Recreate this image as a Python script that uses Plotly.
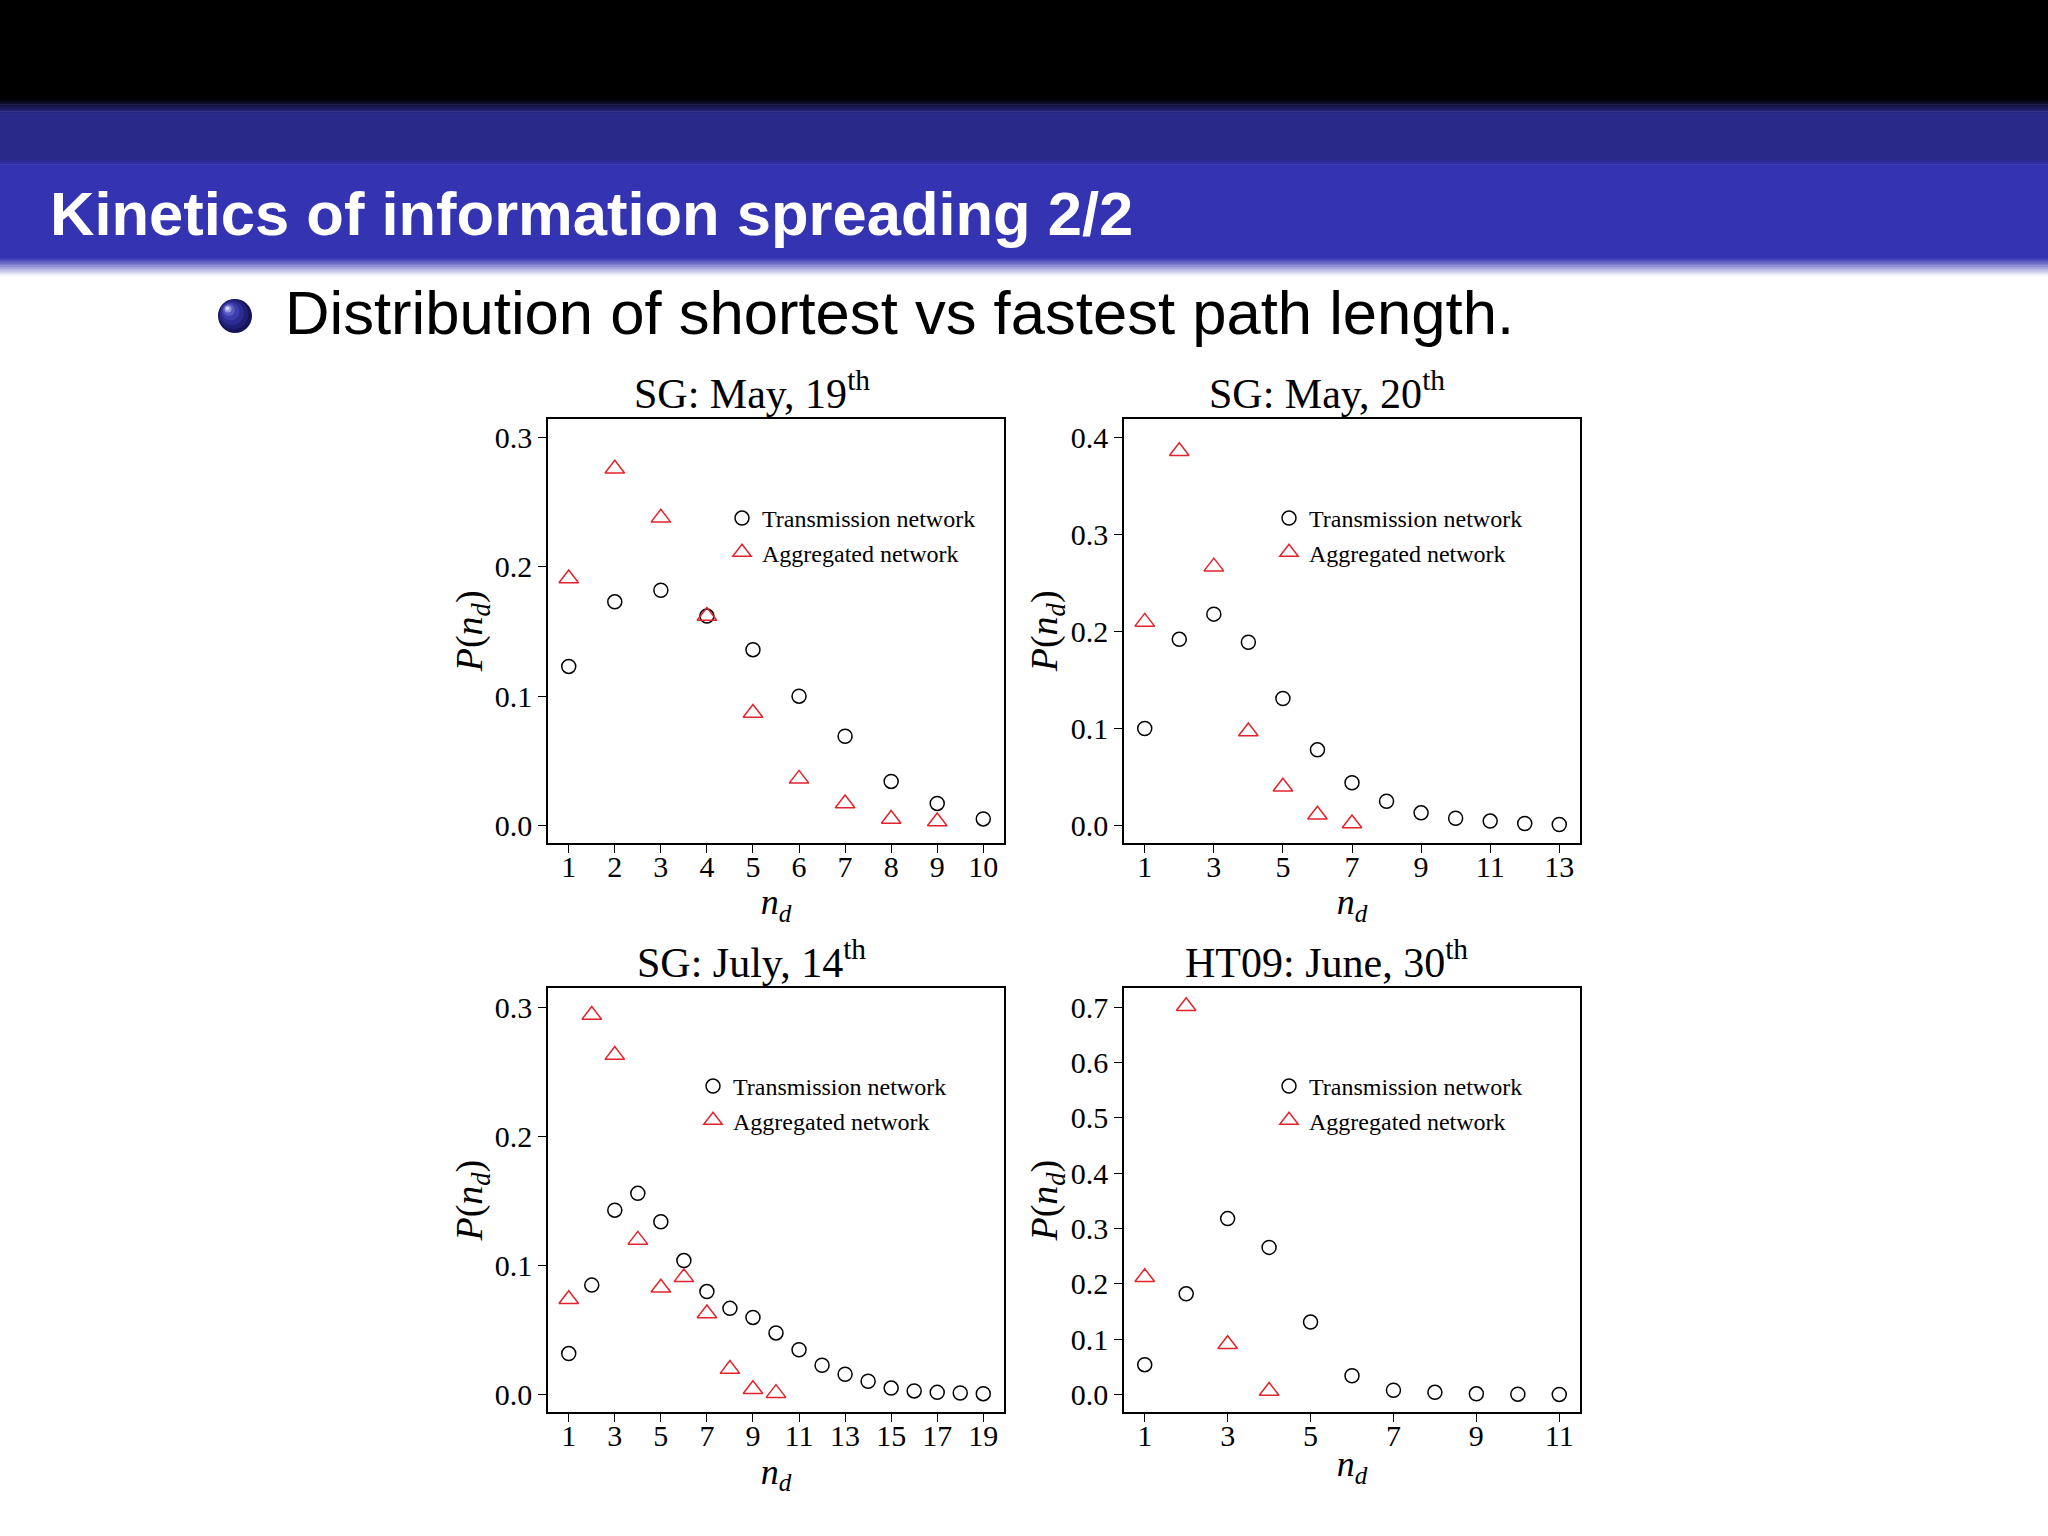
import plotly.graph_objects as go

W, H = 2048, 1536

# ---------------- data ----------------
titles = ["SG: May, 19<sup>th</sup>", "SG: May, 20<sup>th</sup>",
          "SG: July, 14<sup>th</sup>", "HT09: June, 30<sup>th</sup>"]

trans_may19 = [0.123, 0.173, 0.182, 0.162, 0.136, 0.100, 0.069, 0.034, 0.017, 0.005]
agg_may19 = [0.191, 0.276, 0.238, 0.162, 0.087, 0.036, 0.017, 0.005, 0.003]

trans_may20 = [0.100, 0.192, 0.218, 0.189, 0.131, 0.078, 0.044, 0.025, 0.013, 0.0074,
               0.0045, 0.002, 0.001]
agg_may20 = [0.210, 0.386, 0.267, 0.097, 0.040, 0.011, 0.002]

trans_jul14 = [0.032, 0.085, 0.143, 0.156, 0.134, 0.104, 0.080, 0.067, 0.060, 0.048,
               0.035, 0.023, 0.016, 0.0106, 0.0053, 0.0031, 0.002, 0.0015, 0.001]
agg_jul14 = [0.074, 0.294, 0.263, 0.120, 0.083, 0.091, 0.063, 0.020, 0.0044, 0.0014]

trans_ht09 = [0.054, 0.182, 0.318, 0.266, 0.131, 0.034, 0.0078, 0.004, 0.0013, 0.0006, 0.0002]
agg_ht09 = [0.212, 0.702, 0.091, 0.0065]

x_ticks = [list(range(1, 11)), list(range(1, 14, 2)), list(range(1, 20, 2)), list(range(1, 12, 2))]
y_ticks = [[0.0, 0.1, 0.2, 0.3], [0.0, 0.1, 0.2, 0.3, 0.4],
           [0.0, 0.1, 0.2, 0.3], [0.0, 0.1, 0.2, 0.3, 0.4, 0.5, 0.6, 0.7]]

series = [(trans_may19, agg_may19), (trans_may20, agg_may20),
          (trans_jul14, agg_jul14), (trans_ht09, agg_ht09)]

# ---------------- layout helpers ----------------
def px(x):
    return x / W

def py(y):
    return 1 - y / H

x_ranges = [[0.55, 10.45], [0.4, 13.6], [0.1, 19.9], [0.5, 11.5]]
y_ranges = [[-0.0134, 0.3145], [-0.0178, 0.4193], [-0.0132, 0.3147], [-0.0316, 0.7344]]
col_px = [(548, 1004), (1124, 1580)]
row_px = [(419, 842.7), (988.3, 1412)]

SERIF = "Liberation Serif"
RED = "#e3232b"

fig = go.Figure()

legend_names = ["legend", "legend2", "legend3", "legend4"]
for i, (trans, agg) in enumerate(series):
    ax = "" if i == 0 else str(i + 1)
    fig.add_trace(go.Scatter(
        x=list(range(1, len(trans) + 1)), y=trans, mode="markers",
        name="Transmission network",
        marker=dict(symbol="circle-open", size=14, color="black", line=dict(width=1.5, color="black")),
        xaxis="x" + ax, yaxis="y" + ax, legend=legend_names[i]))
    fig.add_trace(go.Scatter(
        x=list(range(1, len(agg) + 1)), y=agg, mode="markers",
        name="Aggregated network",
        marker=dict(symbol="triangle-up-open", size=17, color=RED, line=dict(width=1.5, color=RED)),
        xaxis="x" + ax, yaxis="y" + ax, legend=legend_names[i]))

layout = dict(
    width=W, height=H, margin=dict(l=0, r=0, t=0, b=0),
    paper_bgcolor="white", plot_bgcolor="white",
    font=dict(family=SERIF, color="black"),
    showlegend=True,
)

for i in range(4):
    r, c = divmod(i, 2)
    ax = "" if i == 0 else str(i + 1)
    xd = [px(col_px[c][0]), px(col_px[c][1])]
    yd = [py(row_px[r][1]), py(row_px[r][0])]
    common = dict(showline=True, linecolor="black", linewidth=1.6, mirror=True,
                  ticks="outside", ticklen=8, tickwidth=1.4, tickcolor="black",
                  showgrid=False, zeroline=False,
                  tickfont=dict(family=SERIF, size=30, color="black"))
    layout["xaxis" + ax] = dict(domain=xd, range=x_ranges[i], tickvals=x_ticks[i],
                                anchor="y" + ax, ticklabelstandoff=-12,
                                title=dict(text="<i>n</i><sub><i>d</i></sub>",
                                           font=dict(family=SERIF, size=36), standoff=0),
                                **common)
    layout["yaxis" + ax] = dict(domain=yd, range=y_ranges[i], tickvals=y_ticks[i],
                                tickformat=".1f", anchor="x" + ax,
                                title=dict(text="<i>P</i>(<i>n</i><sub><i>d</i></sub>)",
                                           font=dict(family=SERIF, size=38), standoff=0),
                                **common)

legend_pos = [(722, 496), (1269, 496), (693, 1064), (1269, 1064)]
for i, name in enumerate(legend_names):
    lx, ly = legend_pos[i]
    layout[name] = dict(x=px(lx), y=py(ly), xanchor="left", yanchor="top",
                        bgcolor="rgba(0,0,0,0)", borderwidth=0,
                        font=dict(family=SERIF, size=24, color="black"),
                        tracegroupgap=0, itemsizing="trace")

# ---------------- header / decorations ----------------
shapes = []

def band(y0, y1, color):
    shapes.append(dict(type="rect", xref="paper", yref="paper", x0=0, x1=1,
                       y0=py(y1), y1=py(y0), fillcolor=color, line=dict(width=0), layer="below"))

def lerp(c0, c1, t):
    return "rgb(%d,%d,%d)" % tuple(round(a + (b - a) * t) for a, b in zip(c0, c1))

BLACK = (0, 0, 0)
NAVY = (41, 41, 138)
BLUE = (52, 52, 179)
WHITE = (255, 255, 255)

band(0, 99, "black")
n = 8
for k in range(n):
    band(99 + k * 14 / n, 99 + (k + 1) * 14 / n + 0.5, lerp(BLACK, NAVY, (k + 0.5) / n))
band(113, 159, lerp(NAVY, NAVY, 0))
n = 4
for k in range(n):
    band(159 + k * 7 / n, 159 + (k + 1) * 7 / n + 0.5, lerp(NAVY, BLUE, (k + 0.5) / n))
band(166, 258, lerp(BLUE, BLUE, 0))
n = 10
for k in range(n):
    band(258 + k * 18 / n, 258 + (k + 1) * 18 / n + 0.5, lerp(BLUE, WHITE, (k + 0.5) / n))

# bullet ball
cx, cy = 235, 316
for rad, dx, col in [(17, 0, "#14145a"), (15, -1.5, "#1f1f78"), (12, -3, "#2c2c93"),
                     (9, -4.5, "#3c3cab"), (6, -6, "#5a5ac4"), (3.5, -7, "#9a9ae0"),
                     (1.8, -7.5, "#d8d8f6")]:
    shapes.append(dict(type="circle", xref="paper", yref="paper",
                       x0=px(cx + dx - rad), x1=px(cx + dx + rad),
                       y0=py(cy + dx + rad), y1=py(cy + dx - rad),
                       fillcolor=col, line=dict(width=0), layer="above"))
layout["shapes"] = shapes

annotations = [
    dict(text="<b>Kinetics of information spreading 2/2</b>", x=px(48), y=py(214),
         xref="paper", yref="paper",
         xanchor="left", yanchor="middle", showarrow=False,
         font=dict(family="Liberation Sans", size=61.5, color="white")),
    dict(text="Distribution of shortest vs fastest path length.", x=px(283), y=py(313),
         xref="paper", yref="paper",
         xanchor="left", yanchor="middle", showarrow=False,
         font=dict(family="Liberation Sans", size=61.6, color="black")),
]
title_pos = [(752, 390), (1327, 390), (751, 959), (1326, 959)]
for t, (tx, ty) in zip(titles, title_pos):
    annotations.append(dict(text=t, x=px(tx), y=py(ty), xref="paper", yref="paper",
                            xanchor="center", yanchor="middle",
                            showarrow=False, font=dict(family=SERIF, size=42, color="black")))
layout["annotations"] = annotations

fig.update_layout(**layout)
fig.write_html("out.html", post_script="document.body.style.margin='0px';",
               config={"displayModeBar": False})
